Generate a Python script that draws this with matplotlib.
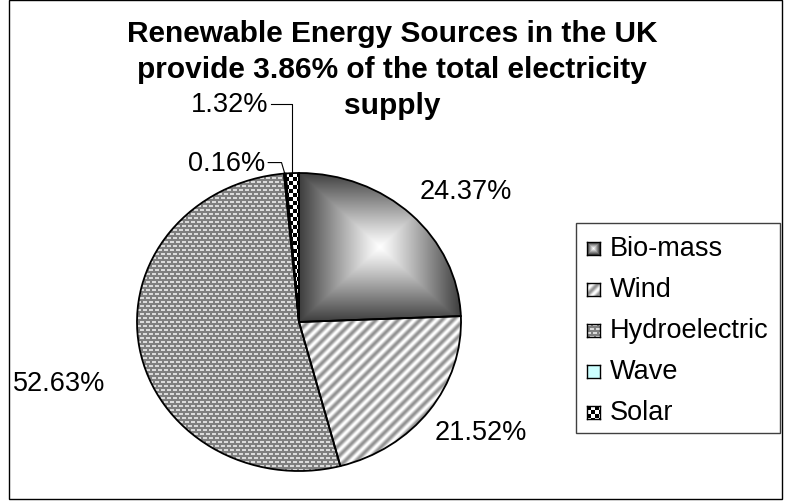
import numpy as np
import matplotlib
matplotlib.use('Agg')
import matplotlib.pyplot as plt
from matplotlib.patches import Rectangle

# Share of UK renewable electricity by source (%)
sources = ['Bio-mass', 'Wind', 'Hydroelectric', 'Wave', 'Solar']
shares = [24.37, 21.52, 52.63, 0.16, 1.32]
title_lines = ['Renewable Energy Sources in the UK',
               'provide 3.86% of the total electricity',
               'supply']

W, H, DPI = 785, 502, 100
plt.rcParams['font.family'] = ['Liberation Sans', 'DejaVu Sans']


def px_box(x0, y0, x1, y1):
    # pixel box measured from the top-left corner -> figure fraction rect
    return [x0 / W, 1 - y1 / H, (x1 - x0) / W, (y1 - y0) / H]


def grey(g):
    return np.dstack([g, g, g])


# fill textures, built pixel by pixel
def gradient_tex(h, w):
    ty = np.abs(np.linspace(-1, 1, h))[:, None]
    tx = np.abs(np.linspace(-1, 1, w))[None, :]
    d = np.maximum(tx, ty)
    return grey(1 - 0.76 * d ** 1.1)


def stripe_tex(h, w, period=11):
    i, j = np.mgrid[0:h, 0:w]
    v = 0.5 + 0.5 * np.cos(2 * np.pi * (i + j) / period)
    return grey(1 - 0.42 * v)


def dash_tex(h, w):
    i, j = np.mgrid[0:h, 0:w]
    row, col = i % 8, j % 6
    light = ((row < 2) & (col < 4)) | ((row >= 4) & (row < 6) & ((col + 3) % 6 < 4))
    return grey(np.where(light, 0.86, 0.5))


def flat_tex(h, w, rgb):
    return np.ones((h, w, 3)) * np.array(rgb)


def checker_tex(h, w, size=4):
    i, j = np.mgrid[0:h, 0:w]
    return grey(((i // size + j // size) % 2).astype(float))


textures = [gradient_tex, stripe_tex, dash_tex,
            lambda h, w: flat_tex(h, w, (0.8, 1.0, 1.0)), checker_tex]

fig = plt.figure(figsize=(W / DPI, H / DPI), dpi=DPI)

# chart frame
fig.add_artist(Rectangle((9 / W, 1 - 500 / H), 773 / W, 499 / H, transform=fig.transFigure,
                         fill=False, edgecolor='black', linewidth=1.0))

# title, centred on the chart area
for k, line in enumerate(title_lines):
    fig.text(392 / W, 1 - (34 + 36 * k) / H, line, ha='center', va='center',
             fontsize=21.5, fontweight='bold')

# pie (slightly wider than tall)
pie_l, pie_t, pie_r, pie_b = 137, 174, 461, 472
ax = fig.add_axes(px_box(pie_l, pie_t, pie_r, pie_b))
wedges, _ = ax.pie(shares, startangle=90, counterclock=False, radius=1,
                   wedgeprops=dict(edgecolor='black', linewidth=1.3, facecolor='none'))

aw, ah = pie_r - pie_l, pie_b - pie_t
for k, (wd, tex) in enumerate(zip(wedges, textures)):
    wd.set_zorder(2)
    if k == 0:
        im = ax.imshow(tex(ah // 2, aw // 2), extent=(0, 1, 0, 1), interpolation='bilinear', zorder=1)
    else:
        im = ax.imshow(tex(ah, aw), extent=(-1, 1, -1, 1), interpolation='nearest', zorder=1)
    im.set_clip_path(wd)
ax.set_xlim(-1, 1)
ax.set_ylim(-1, 1)
ax.set_aspect('auto')
ax.axis('off')

# percentage labels
cum = np.cumsum([0] + shares)
mid = np.deg2rad(90 - 3.6 * (cum[:-1] + cum[1:]) / 2)
labels = ['%.2f%%' % s for s in shares]
lab_kw = dict(fontsize=19.5, va='center', clip_on=False)
ax.text(1.03, 0.88, labels[0], ha='center', **lab_kw)
ax.text(1.12, -0.74, labels[1], ha='center', **lab_kw)
ax.text(-1.48, -0.41, labels[2], ha='center', **lab_kw)

# leader lines for the two thin slices
wx, wy = np.cos(mid[3]), np.sin(mid[3])
ax.plot([-0.19, wx - 0.02, wx], [1.07, 1.07, wy], color='black', lw=0.8, clip_on=False)
ax.text(-0.21, 1.07, labels[3], ha='right', **lab_kw)
sx, sy = np.cos(mid[4]), np.sin(mid[4])
ax.plot([-0.17, sx, sx], [1.46, 1.46, sy], color='black', lw=0.8, clip_on=False)
ax.text(-0.19, 1.46, labels[4], ha='right', **lab_kw)

# legend box with textured keys
lg_l, lg_t, lg_r, lg_b = 576, 224, 780, 434
fig.add_artist(Rectangle((lg_l / W, 1 - lg_b / H), (lg_r - lg_l) / W, (lg_b - lg_t) / H,
                         transform=fig.transFigure, fill=False, edgecolor='#404040', linewidth=1.0))
row_y = [249, 290, 331, 372, 413]
for name, tex, y in zip(sources, textures, row_y):
    kax = fig.add_axes(px_box(587, y - 6, 600, y + 7))
    kax.imshow(tex(13, 13), interpolation='nearest', aspect='auto')
    kax.set_xticks([])
    kax.set_yticks([])
    for sp in kax.spines.values():
        sp.set_linewidth(1.0)
    fig.text(610 / W, 1 - y / H, name, ha='left', va='center', fontsize=19.5)

fig.savefig('out.png', dpi=DPI)
